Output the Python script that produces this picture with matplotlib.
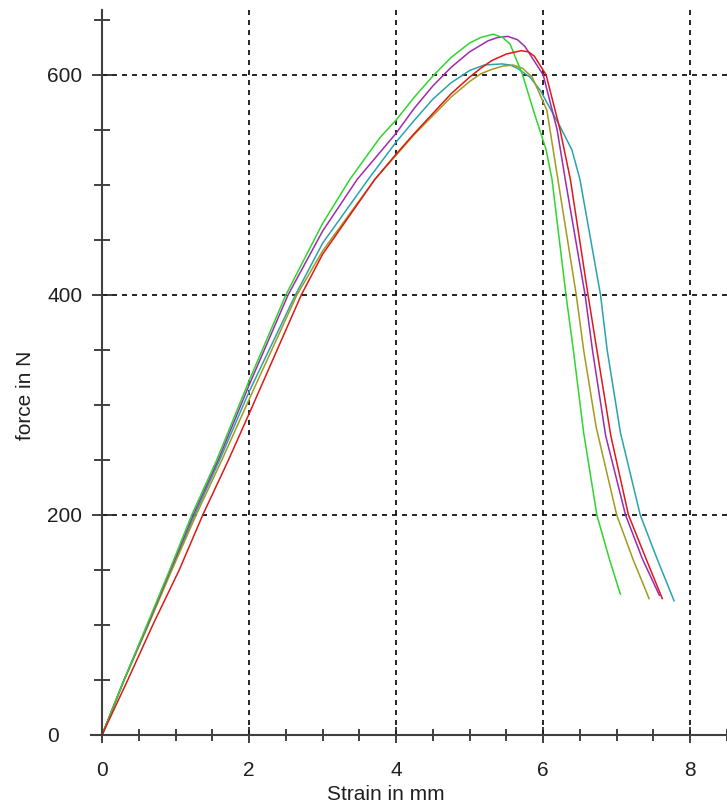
import numpy as np
import matplotlib
matplotlib.use("Agg")
import matplotlib.pyplot as plt
from matplotlib.ticker import MultipleLocator

plt.rcParams['font.family'] = ['Liberation Sans', 'DejaVu Sans']

# force / strain readings of the five specimens
green_x = [0, 0.3, 0.61, 0.92, 1.22, 1.56, 2.0, 2.5, 3.0, 3.37, 3.78, 4.0, 4.25, 4.5, 4.75,
           5.0, 5.15, 5.32, 5.45, 5.55, 5.72, 5.88, 6.04, 6.12, 6.31, 6.41, 6.55, 6.73, 6.9, 7.05]
green_y = [0, 50, 100, 150, 200, 250, 322, 400, 465, 505, 543, 559, 580, 599, 616,
           629, 634, 637, 634, 628, 600, 565, 532, 505, 400, 350, 275, 200, 160, 128]

purple_x = [0, 0.3, 0.62, 0.93, 1.24, 1.58, 2.0, 2.53, 3.0, 3.47, 4.0, 4.25, 4.5, 4.75, 5.0,
            5.25, 5.38, 5.52, 5.65, 5.75, 6.0, 6.19, 6.30, 6.57, 6.67, 6.85, 7.12, 7.35, 7.58]
purple_y = [0, 50, 100, 150, 200, 250, 318, 400, 458, 505, 547, 570, 590, 607, 621,
            631, 634, 635, 632, 626, 600, 550, 505, 400, 350, 272, 200, 160, 127]

red_x = [0, 0.35, 0.69, 1.05, 1.37, 1.72, 2.0, 2.71, 3.0, 3.71, 4.0, 4.25, 4.5, 4.75, 5.0,
         5.15, 5.3, 5.5, 5.7, 5.8, 5.88, 6.04, 6.23, 6.37, 6.61, 6.73, 6.92, 7.16, 7.4, 7.62]
red_y = [0, 50, 100, 150, 200, 250, 292, 400, 437, 505, 528, 547, 565, 583, 598,
         606, 613, 619, 622, 621, 617, 600, 550, 505, 400, 350, 272, 200, 160, 124]

teal_x = [0, 0.3, 0.62, 0.94, 1.26, 1.6, 2.0, 2.63, 3.0, 3.62, 4.0, 4.25, 4.5, 4.75, 5.0,
          5.2, 5.44, 5.55, 5.65, 5.82, 5.96, 6.23, 6.39, 6.50, 6.78, 6.87, 7.05, 7.32, 7.55, 7.78]
teal_y = [0, 50, 100, 150, 200, 250, 312, 400, 447, 505, 539, 559, 578, 593, 604,
          609, 610, 609, 606, 598, 586, 553, 532, 505, 400, 350, 275, 200, 160, 122]

olive_x = [0, 0.3, 0.63, 0.95, 1.28, 1.63, 2.0, 2.65, 3.0, 3.71, 4.0, 4.25, 4.5, 4.75, 5.0,
           5.15, 5.3, 5.45, 5.59, 5.72, 5.85, 6.05, 6.20, 6.45, 6.55, 6.72, 7.0, 7.22, 7.44]
olive_y = [0, 50, 100, 150, 200, 250, 305, 400, 440, 505, 527, 546, 563, 580, 594,
           601, 605, 608, 609, 606, 598, 568, 505, 400, 350, 280, 200, 160, 124]

x_ticks = [0, 2, 4, 6, 8]
y_ticks = [0, 200, 400, 600]

fig = plt.figure(figsize=(7.27, 8.09), dpi=100)
ax = fig.add_axes([91/727, 74/809, 636/727, 725/809])

ax.plot(teal_x, teal_y, color='#2aa3ad', lw=1.1)
ax.plot(olive_x, olive_y, color='#a39a1e', lw=1.1)
ax.plot(purple_x, purple_y, color='#a02aae', lw=1.1)
ax.plot(green_x, green_y, color='#2ed62e', lw=1.1)
ax.plot(red_x, red_y, color='#e01818', lw=1.1)

ax.set_xlim(-0.15, 8.5)
ax.set_ylim(0, 659)

ax.spines['left'].set_position(('data', 0))
ax.spines['top'].set_visible(False)
ax.spines['right'].set_visible(False)
for s in ['left', 'bottom']:
    ax.spines[s].set_color('#404040')
    ax.spines[s].set_linewidth(1.5)

ax.set_xticks(x_ticks)
ax.set_yticks(y_ticks)
ax.xaxis.set_minor_locator(MultipleLocator(0.5))
ax.yaxis.set_minor_locator(MultipleLocator(50))
ax.tick_params(axis='x', which='major', direction='inout', length=11, width=1.2,
               color='#202020', labelsize=15, pad=13, labelcolor='#202020')
ax.tick_params(axis='x', which='minor', direction='inout', length=9, width=1.2, color='#202020')
ax.tick_params(axis='y', which='major', direction='inout', length=15, width=1.2,
               color='#202020', labelsize=15, pad=32, labelcolor='#202020')
ax.tick_params(axis='y', which='minor', direction='inout', length=11, width=1.2, color='#202020')
# y labels are left-aligned in a column
for lab in ax.get_yticklabels():
    lab.set_horizontalalignment('left')

# dotted grid only at the non-zero major ticks
for xv in x_ticks[1:]:
    ax.axvline(xv, color='black', ls=(0, (3, 3)), lw=1.2, zorder=0)
for yv in y_ticks[1:]:
    ax.plot([0, 8.5], [yv, yv], color='black', ls=(0, (3, 3)), lw=1.2, zorder=0)

fig.text(26/727, 1 - 395/809, 'force in N', rotation=90, ha='center', va='center',
         fontsize=15, color='#202020')
fig.text(386/727, 1 - 795/809, 'Strain in mm', ha='center', va='center',
         fontsize=15, color='#202020')

fig.savefig('out.png', dpi=100)
